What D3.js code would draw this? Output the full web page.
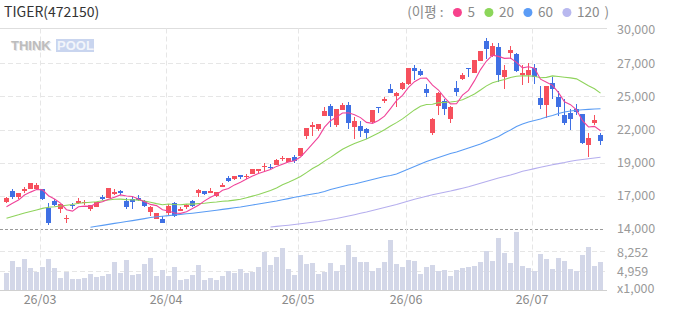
<!DOCTYPE html>
<html><head><meta charset="utf-8">
<script src="https://cdn.jsdelivr.net/npm/d3@7/dist/d3.min.js"></script>
<style>
html,body{margin:0;padding:0;background:#fff;}
svg{display:block;font-family:"Noto Sans CJK KR","Noto Sans",sans-serif;}
</style></head><body>
<svg id="chart" width="673" height="315"></svg>
<script>
const title = "TIGER(472150)";
const legendTitle = "(이평 :";
const maPeriods = ["5", "20", "60", "120"];
const monthLabels = ["26/03", "26/04", "26/05", "26/06", "26/07"];
const monthStartIndex = [6, 27, 49, 67, 88];
const priceTickValues = [30000, 27333, 24667, 22000, 19333, 16667, 14000];
const priceTickLabels = ["30,000", "27,000", "25,000", "22,000", "19,000", "17,000", "14,000"];
const volumeTickValues = [8252, 4959];
const volumeTickLabels = ["8,252", "4,959"];
const volumeUnitLabel = "x1,000";

const opens = [16170,17031,16549,17079,17240,17240,17192,15688,16227,15632,14828,15930,16115,16170,15584,15793,16597,16492,16814,17079,
16275,16436,16492,16227,15391,14828,14828,15311,16115,15471,15850,16227,16919,17055,16919,16653,17401,18125,17996,18317,
18210,18422,18750,19010,19010,19170,19650,19387,19813,19869,21477,22225,22064,23085,23889,22362,23568,23970,22225,22281,
22016,22603,23800,24267,25280,24718,25280,25634,26969,26727,25256,21742,23889,24315,22868,25360,26084,26944,26567,27532,
29091,27909,28609,26245,28175,28070,26438,26406,26944,24532,23994,25762,24637,23142,23302,23672,23246,20778,22547,21533];
const highs = [16600,17240,16900,17353,17700,17723,17230,16066,16436,16050,15150,16115,16492,16332,15950,16200,16709,17320,17240,17100,
16492,16597,16709,16332,15820,15290,15045,16010,16171,15745,16010,16332,17240,17080,17296,17000,17674,18285,18300,18350,
18422,18820,18850,19331,19226,19650,19869,19730,19925,20540,22150,22603,22470,23785,24050,23680,24155,24211,22981,22708,
22120,23600,23830,24589,25658,25015,25820,26950,27210,26840,25658,22900,25015,24428,23860,25923,26518,26960,27610,28300,
29356,28979,28930,27210,28713,28126,27210,27370,27266,25497,25520,26197,25071,24428,23624,24050,23270,21694,23142,21694];
const lows = [16070,16388,16436,16919,17200,17192,16350,14346,15849,15311,14507,15584,16010,15954,15471,15760,16332,16460,16758,16709,
15632,15632,16275,15745,15069,14800,14482,15101,14941,15423,15584,15793,16597,16760,16870,16549,17353,17779,17940,17996,
18044,18400,18478,18583,18800,19120,19491,19360,19330,19850,21260,21477,21855,23050,22225,22225,23540,22064,21260,21421,
21212,22522,23350,24155,24930,23785,25176,25600,25980,26300,24637,21582,23190,23141,22547,24693,25980,26245,26540,27500,
27692,27853,25818,25280,27692,26623,25554,25762,25658,23672,22924,24476,23085,22386,21960,23142,20834,19813,22337,20778];
const closes = [16490,16549,16870,17240,17674,17562,16388,14507,15954,16010,14884,15849,16275,16190,15905,16171,16388,17296,16975,16870,
15745,16171,16332,15849,15793,15262,14507,15849,15045,15632,15900,15849,17136,16790,17079,16975,17562,17859,18261,18157,
18260,18800,18800,19060,18960,19548,19700,19708,19491,20512,22120,22362,22442,23511,23085,23648,23970,22547,22708,21903,
21742,23568,23720,24428,24959,24910,25714,26920,26727,26358,24959,22868,24959,23672,23833,25015,26358,26840,27588,28287,
28448,28713,26358,26784,28392,26727,26518,26784,26197,23994,25497,25280,23833,22547,22820,23407,20939,21316,22764,21099];
const volumes = [4561,6605,5583,6945,5413,4731,5583,6945,5413,3710,4731,3539,3539,3710,4391,3880,4050,4391,6434,4561,
6775,4221,4391,6094,7116,4050,5072,4050,5583,3369,3539,4221,5924,3369,3710,3369,4050,4902,4561,5242,
4561,4731,5583,8137,5924,7286,8819,5242,4221,7627,6094,6264,4391,4731,6264,4902,5924,9330,7286,6434,
6434,4902,5413,6434,10181,6094,5583,6775,6605,4391,5583,5924,4902,5072,4050,5072,5413,5583,5753,6434,
8308,6605,10522,7967,6264,11545,5753,5413,4902,7797,6945,5242,7116,6605,5242,4902,7627,8989,5753,6434];
const ma5 = [15793,16066,16332,16734,16965,17179,17147,16674,16417,16084,15549,15441,15794,15842,15821,16078,16186,16390,16547,16740,
16655,16611,16419,16193,15978,15881,15549,15452,15291,15259,15387,15655,15912,16261,16551,16766,17108,17253,17547,17763,
18020,18267,18456,18615,18776,19034,19214,19395,19481,19792,20306,20839,21385,22189,22704,23010,23331,23352,23192,22955,
22574,22494,22728,23072,23683,24317,24746,25386,25846,26126,26136,25566,25174,24563,24058,24069,24767,25144,25927,26818,
27504,27975,27879,27718,27739,27395,26956,27041,26924,26044,25798,25550,24960,24230,23995,23577,22709,22206,22249,21905];
const ma20 = [14860,15005,15140,15290,15410,15530,15660,15745,15790,15850,15905,15970,16070,16115,16155,16195,16270,16330,16390,16402,
16365,16346,16319,16250,16156,16041,15947,16014,15968,15949,16000,16000,16043,16073,16132,16172,16231,16259,16323,16388,
16513,16645,16768,16929,17087,17301,17561,17754,17976,18220,18531,18857,19122,19458,19759,20092,20413,20647,20869,21057,
21231,21469,21715,21984,22284,22552,22852,23213,23575,23867,24009,24034,24160,24168,24206,24274,24393,24608,24852,25171,
25507,25764,25896,26014,26185,26276,26316,26309,26283,26165,26192,26312,26256,26200,26149,26069,25798,25521,25280,24921];
const ma60 = [null,null,null,null,null,null,null,null,null,null,null,null,null,null,14137,14217,14290,14370,14450,14523,
14603,14675,14756,14836,14925,14981,15029,15077,15126,15174,15222,15270,15327,15383,15447,15512,15576,15640,15704,15769,
15849,15930,16010,16090,16171,16251,16348,16444,16549,16637,16734,16814,16894,17015,17176,17296,17417,17538,17618,17739,
17859,17980,18100,18221,18301,18422,18623,18824,19025,19226,19427,19588,19749,19909,20070,20191,20352,20512,20673,20834,
21035,21236,21437,21718,21960,22241,22442,22603,22723,22844,23005,23125,23286,23407,23487,23552,23584,23616,23648,23672];
const ma120 = [null,null,null,null,null,null,null,null,null,null,null,null,null,null,null,null,null,null,null,null,
null,null,null,null,null,null,null,null,null,null,null,null,null,null,null,null,null,null,null,null,
null,null,null,null,14161,14209,14257,14306,14362,14418,14482,14539,14603,14683,14764,14844,14941,15045,15150,15262,
15367,15487,15608,15729,15849,15970,16106,16251,16388,16508,16637,16750,16854,16959,17055,17168,17280,17393,17538,17682,
17819,17956,18100,18221,18342,18486,18639,18744,18856,18961,19065,19162,19258,19347,19451,19523,19588,19652,19708,19765];

const colors = {up:"#f6505d", down:"#3f70e4", ma5:"#f0449a", ma20:"#8fd35c", ma60:"#5a9cf4", ma120:"#b5aeee", vol:"#d3d7e8"};
const legendDot = ["#f7428c", "#8cd65a", "#5b9cf6", "#b8b8ef"];

const svg = d3.select("#chart");
const n = closes.length;
const idx = d3.range(n);
const x = d3.scaleBand().domain(idx).range([4, 603]).paddingInner(1/6).paddingOuter(0);
const y = d3.scaleLinear().domain([14000, 30000]).range([229, 30]);
const yv = d3.scaleLinear().domain([1666, 11545]).range([290, 232]);
const px = v => Math.round(v) + 0.5;
const plotRight = 607;

// header
svg.append("text").attr("x", 4).attr("y", 17).attr("font-size", 14).attr("fill", "#333").text(title);

// legend
const lg = svg.append("g").attr("font-size", 13.5).attr("fill", "#8a8a8a");
let lx = 0;
function addT(t){ const el = lg.append("text").attr("x", lx).attr("y", 17).text(t); lx += el.node().getComputedTextLength(); }
addT(legendTitle);
maPeriods.forEach((p, i) => {
  lx += 14;
  lg.append("circle").attr("cx", lx).attr("cy", 12.5).attr("r", 4.5).attr("fill", legendDot[i]);
  lx += 10;
  addT(p);
});
lx += 5; addT(")");
lg.attr("transform", `translate(${609 - lx},0)`);

// top border line
svg.append("line").attr("x1", 0).attr("x2", plotRight).attr("y1", px(y(30000)) - 2).attr("y2", px(y(30000)) - 2)
  .attr("stroke", "#dedede").attr("stroke-width", 1);

// horizontal grid
priceTickValues.forEach(v => {
  if (v === 30000) return;
  const yy = px(y(v));
  const dark = v === 14000;
  svg.append("line").attr("x1", 0).attr("x2", dark ? 604 : plotRight).attr("y1", yy).attr("y2", yy)
    .attr("stroke", dark ? "#9a9a9a" : "#e6e6e6").attr("stroke-dasharray", dark ? "3,2" : "5,3");
});
volumeTickValues.forEach(v => {
  const yy = px(yv(v));
  svg.append("line").attr("x1", 0).attr("x2", plotRight).attr("y1", yy).attr("y2", yy)
    .attr("stroke", "#e6e6e6").attr("stroke-dasharray", "5,3");
});
// vertical grid
monthStartIndex.forEach(i => {
  const xx = x(i) + 0.5;
  svg.append("line").attr("x1", xx).attr("x2", xx).attr("y1", px(y(30000)) - 2).attr("y2", 290)
    .attr("stroke", "#e6e6e6").attr("stroke-dasharray", "5,3");
});

// watermark
const wm = svg.append("g").attr("font-family", "Liberation Sans, Arial, sans-serif").attr("font-size", 13).attr("font-weight", 900);
wm.append("text").attr("x", 12).attr("y", 51).attr("fill", "#e4e4e4").text("THINK");
wm.append("text").attr("x", 11).attr("y", 50).attr("fill", "#bdbdbd").text("THINK");
wm.append("rect").attr("x", 56).attr("y", 39).attr("width", 38).attr("height", 13).attr("fill", "#c9d5ef");
wm.append("text").attr("x", 57).attr("y", 50).attr("fill", "#f2f5fb").text("POOL");

// volume bars
svg.append("g").selectAll("rect").data(idx).join("rect")
  .attr("x", i => x(i)).attr("width", x.bandwidth())
  .attr("y", i => yv(volumes[i])).attr("height", i => 290 - yv(volumes[i]))
  .attr("fill", colors.vol).attr("shape-rendering", "crispEdges");
svg.append("line").attr("x1", 0).attr("x2", plotRight).attr("y1", 290.5).attr("y2", 290.5).attr("stroke", "#d0d0d0");

// candles
const cg = svg.append("g").attr("shape-rendering", "crispEdges");
idx.forEach(i => {
  const up = closes[i] >= opens[i];
  const col = up ? colors.up : colors.down;
  const x0 = x(i);
  cg.append("rect").attr("x", x0 + 2).attr("width", 1)
    .attr("y", y(highs[i])).attr("height", Math.max(1, y(lows[i]) - y(highs[i]))).attr("fill", col);
  const top = y(Math.max(opens[i], closes[i])), bot = y(Math.min(opens[i], closes[i]));
  cg.append("rect").attr("x", x0).attr("width", x.bandwidth())
    .attr("y", top).attr("height", Math.max(1.2, bot - top)).attr("fill", col);
});

// moving averages
const line = arr => d3.line().defined(i => arr[i] != null).x(i => x(i) + x.bandwidth() / 2).y(i => y(arr[i]));
[ma120, ma60, ma20, ma5].forEach((arr, k) => {
  const col = [colors.ma120, colors.ma60, colors.ma20, colors.ma5][k];
  svg.append("path").attr("d", line(arr)(idx)).attr("fill", "none").attr("stroke", col).attr("stroke-width", 1.1);
});

// right axis labels
const ax = svg.append("g").attr("font-size", 12.5).attr("fill", "#9a9a9a");
priceTickValues.forEach((v, i) => {
  ax.append("text").attr("x", 617).attr("y", y(v)).attr("dy", "0.35em").text(priceTickLabels[i]);
});
volumeTickValues.forEach((v, i) => {
  ax.append("text").attr("x", 617).attr("y", yv(v) + 1).attr("dy", "0.35em").text(volumeTickLabels[i]);
});
ax.append("text").attr("x", 617).attr("y", 289).attr("dy", "0.35em").text(volumeUnitLabel);

// month labels
const mg = svg.append("g").attr("font-size", 12.5).attr("fill", "#8a8a8a").attr("text-anchor", "middle");
monthStartIndex.forEach((i, k) => {
  mg.append("text").attr("x", x(i)).attr("y", 300).attr("dy", "0.35em").text(monthLabels[k]);
});
</script>
</body></html>
